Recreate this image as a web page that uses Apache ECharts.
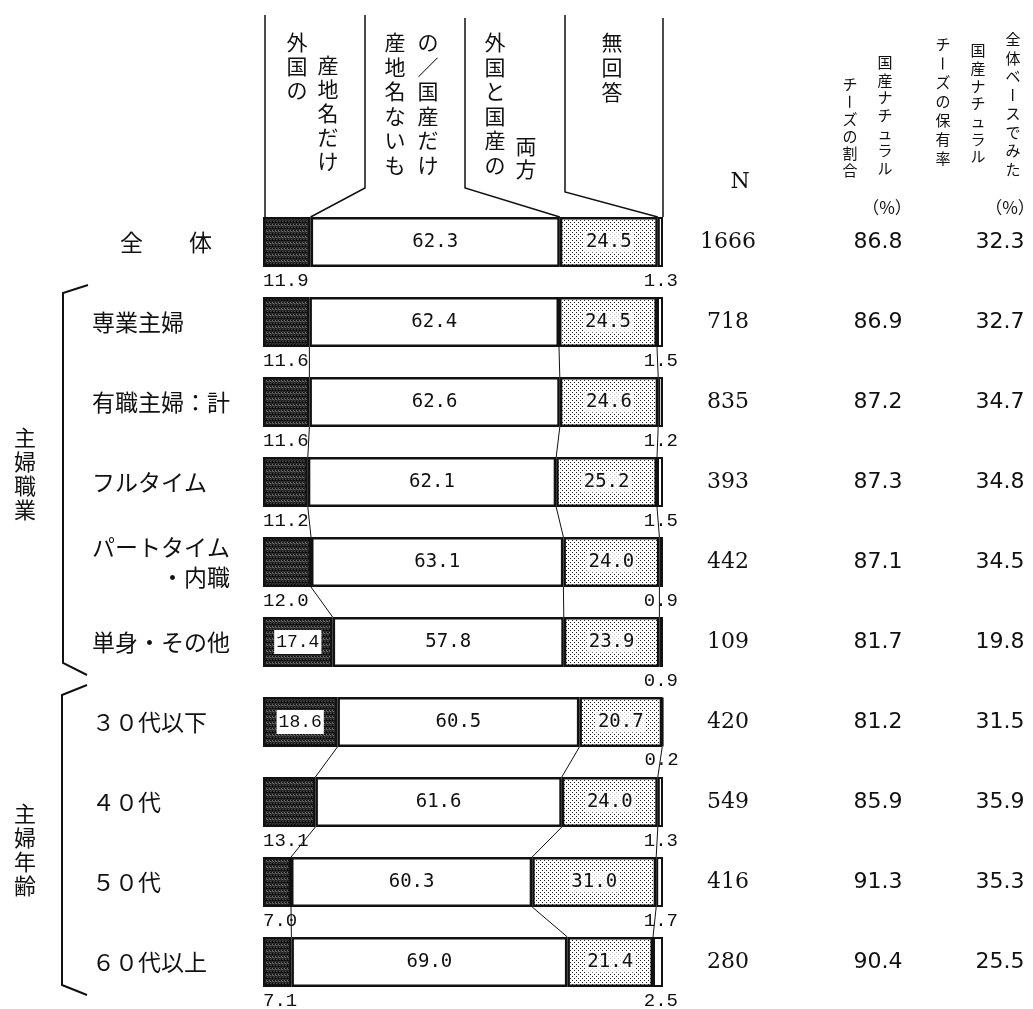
<!DOCTYPE html>
<html>
<head>
<meta charset="utf-8">
<title>国産ナチュラルチーズ</title>
<script src="https://cdn.jsdelivr.net/npm/echarts@6/dist/echarts.min.js"></script>
<style>body{margin:0;background:#fff;}</style>
</head>
<body>
<div id="main" style="width:1033px;height:1009px;"></div>
<script type="text/javascript">
// 行ラベル
var categories = ['全　　体', '専業主婦', '有職主婦：計', 'フルタイム', 'パートタイム・内職', '単身・その他', '３０代以下', '４０代', '５０代', '６０代以上'];
// 構成比（%）
var foreignOnly  = [11.9, 11.6, 11.6, 11.2, 12.0, 17.4, 18.6, 13.1, 7.0, 7.1];
var domesticOnly = [62.3, 62.4, 62.6, 62.1, 63.1, 57.8, 60.5, 61.6, 60.3, 69.0];
var bothKinds    = [24.5, 24.5, 24.6, 25.2, 24.0, 23.9, 20.7, 24.0, 31.0, 21.4];
var noAnswer     = [1.3, 1.5, 1.2, 1.5, 0.9, 0.9, 0.2, 1.3, 1.7, 2.5];
// 右側の数値
var sampleN       = [1666, 718, 835, 393, 442, 109, 420, 549, 416, 280];
var domesticShare = [86.8, 86.9, 87.2, 87.3, 87.1, 81.7, 81.2, 85.9, 91.3, 90.4];
var overallRate   = [32.3, 32.7, 34.7, 34.8, 34.5, 19.8, 31.5, 35.9, 35.3, 25.5];
// 棒同士を結ぶ線（グループ内）
var links = [[1, 2], [2, 3], [3, 4], [4, 5], [6, 7], [7, 8], [8, 9]];

var JP = '"Noto Sans CJK JP"';
var HALF = 25; // 棒の半分の太さ

function makePattern(size, draw) {
  var c = document.createElement('canvas');
  c.width = c.height = size;
  draw(c.getContext('2d'));
  return c;
}
var dottedTex = makePattern(4, function (ctx) {
  ctx.fillStyle = '#fff'; ctx.fillRect(0, 0, 4, 4);
  ctx.fillStyle = '#222'; ctx.fillRect(0, 0, 1, 1); ctx.fillRect(2, 2, 1, 1);
});
var darkTex = makePattern(6, function (ctx) {
  var shades = ['#0d0d0d', '#4a4a4a', '#222', '#6e6e6e', '#000', '#333'];
  for (var y = 0; y < 6; y++) {
    for (var x = 0; x < 6; x++) {
      ctx.fillStyle = shades[(x * 2 + y * 5 + (x * y) % 3) % 6];
      ctx.fillRect(x, y, 1, 1);
    }
  }
});

function cumRow(i) {
  var a = foreignOnly[i], b = a + domesticOnly[i], c = b + bothKinds[i];
  return [a, b, c];
}

function rightAxis(arr, margin, family, digits) {
  return {
    type: 'category', data: categories, inverse: true, position: 'right', offset: 0,
    axisLine: {show: false}, axisTick: {show: false}, splitLine: {show: false},
    axisLabel: {
      interval: 0, margin: margin, align: 'center', padding: [10, 0, 0, 0],
      fontSize: 22, fontFamily: family, color: '#111',
      formatter: function (v, i) { return digits ? arr[i].toFixed(digits) : String(arr[i]); }
    }
  };
}

var inBarLabel = {
  show: true, position: 'inside', fontFamily: '"DejaVu Sans Mono"', fontSize: 19, color: '#111',
  formatter: function (p) { return p.value.toFixed(1); }
};

var darkData = foreignOnly.map(function (v) {
  if (v < 15) return v;
  return {
    value: v,
    label: {
      position: 'inside', align: 'center', verticalAlign: 'middle',
      backgroundColor: '#fff', padding: [3, 2], fontFamily: '"Liberation Mono"', fontSize: 18
    }
  };
});

var option = {
  animation: false,
  grid: {left: 263, top: 202, width: 400, height: 800},
  xAxis: {type: 'value', min: 0, max: 100, show: false},
  yAxis: [
    {
      type: 'category', data: categories, inverse: true,
      axisLine: {show: false}, axisTick: {show: false},
      axisLabel: {
        interval: 0, margin: 171, align: 'left', fontSize: 23, fontFamily: JP, color: '#111', lineHeight: 30,
        formatter: function (v, i) {
          if (v === 'パートタイム・内職') return 'パートタイム\n　　　・内職';
          if (i === 0) return '{a|' + v + '}';
          return v;
        },
        rich: {a: {padding: [0, 0, 0, 28], fontSize: 23, fontFamily: JP, color: '#111'}}
      }
    },
    rightAxis(sampleN, 65, '"DejaVu Serif"', 0),
    rightAxis(domesticShare, 215, '"DejaVu Sans"', 1),
    rightAxis(overallRate, 337, '"DejaVu Sans"', 1)
  ],
  series: [
    {
      name: '外国の産地名だけ', type: 'bar', stack: 'a', barWidth: 50, data: darkData,
      itemStyle: {color: {image: darkTex, repeat: 'repeat'}, borderColor: '#111', borderWidth: 2.5},
      label: {
        show: true, position: [0, 54], align: 'left', verticalAlign: 'top',
        fontFamily: '"Liberation Mono"', fontSize: 19, color: '#111',
        formatter: function (p) { return p.value.toFixed(1); }
      }
    },
    {
      name: '国産だけ/産地名ないもの', type: 'bar', stack: 'a', barWidth: 50, data: domesticOnly,
      itemStyle: {color: '#fff', borderColor: '#111', borderWidth: 2.5},
      label: inBarLabel
    },
    {
      name: '外国と国産の両方', type: 'bar', stack: 'a', barWidth: 50, data: bothKinds,
      itemStyle: {color: {image: dottedTex, repeat: 'repeat'}, borderColor: '#111', borderWidth: 2.5},
      label: echarts.util.merge({backgroundColor: 'rgba(255,255,255,0.75)', padding: [1, 2]}, inBarLabel)
    },
    {
      name: '無回答', type: 'bar', stack: 'a', barWidth: 50, data: noAnswer,
      itemStyle: {color: '#fff', borderColor: '#111', borderWidth: 2},
      label: {
        show: true, position: ['100%', 54], align: 'right', verticalAlign: 'top', offset: [15, 0],
        fontFamily: '"Liberation Mono"', fontSize: 19, color: '#111',
        formatter: function (p) { return p.value.toFixed(1); }
      }
    },
    {
      type: 'custom', silent: true, data: links, z: 1,
      renderItem: function (params, api) {
        var a = api.value(0), b = api.value(1);
        var ca = cumRow(a), cb = cumRow(b), kids = [];
        for (var k = 0; k < 3; k++) {
          var p1 = api.coord([ca[k], a]);
          var p2 = api.coord([cb[k], b]);
          kids.push({
            type: 'line',
            shape: {x1: p1[0], y1: p1[1] + HALF, x2: p2[0], y2: p2[1] - HALF},
            style: {stroke: '#111', lineWidth: 1}
          });
        }
        return {type: 'group', children: kids};
      }
    }
  ]
};

var chart = echarts.init(document.getElementById('main'));
chart.setOption(option);

// 縦書きテキスト
function vtext(str, x, y, size, step) {
  return Array.from(str).map(function (ch, i) {
    var el = {
      type: 'text', x: x, y: y + i * step + size / 2,
      style: {text: ch, font: size + 'px ' + JP, fill: '#111', align: 'center', verticalAlign: 'middle'}
    };
    if (ch === 'ー') el.rotation = -Math.PI / 2;
    return el;
  });
}
function pline(points, w) {
  return {type: 'polyline', shape: {points: points}, style: {stroke: '#111', lineWidth: w || 1.5, fill: null}};
}

function px(v, row) { return chart.convertToPixel({seriesIndex: 0}, [v, row]); }
var c0 = cumRow(0);
var L = px(0, 0), B1 = px(c0[0], 0), B2 = px(c0[1], 0), B3 = px(c0[2], 0), R = px(100, 0);
var topY = L[1] - HALF;

var g = [];
// 見出しの枠
g.push(pline([[L[0] + 2, 15], [L[0] + 2, topY]]));
g.push(pline([[365, 15], [365, 188], [B1[0], topY]]));
g.push(pline([[465, 18], [465, 188], [B2[0], topY]]));
g.push(pline([[565, 15], [565, 192], [B3[0], topY]]));
g.push(pline([[R[0], 18], [R[0], topY]]));
// 見出しの文字
g = g.concat(vtext('外国の', 297, 32, 21, 24));
g = g.concat(vtext('産地名だけ', 328, 55, 21, 24));
g = g.concat(vtext('産地名ないも', 395, 32, 21, 24.5));
g = g.concat(vtext('の／国産だけ', 428, 32, 21, 24.5));
g = g.concat(vtext('外国と国産の', 495, 32, 21, 24.5));
g = g.concat(vtext('両方', 526, 136, 21, 23));
g = g.concat(vtext('無回答', 612, 32, 21, 25));
// 右側の見出し
g.push({type: 'text', x: 740, y: 182, style: {text: 'N', font: '22px "DejaVu Serif"', fill: '#111', align: 'center', verticalAlign: 'middle'}});
g = g.concat(vtext('国産ナチュラル', 885, 55, 15, 17.6));
g = g.concat(vtext('チーズの割合', 850, 77, 15, 17.2));
g.push({type: 'text', x: 887, y: 208, style: {text: '（%）', font: '17px ' + JP, fill: '#111', align: 'center', verticalAlign: 'middle'}});
g = g.concat(vtext('チーズの保有率', 943, 37, 15, 19));
g = g.concat(vtext('国産ナチュラル', 978, 43, 15, 17.7));
g = g.concat(vtext('全体ベースでみた', 1013, 32, 15, 18.5));
g.push({type: 'text', x: 1010, y: 208, style: {text: '（%）', font: '17px ' + JP, fill: '#111', align: 'center', verticalAlign: 'middle'}});
// グループ名と括弧
g = g.concat(vtext('主婦職業', 25, 427, 22, 24));
g = g.concat(vtext('主婦年齢', 25, 803, 22, 24));
g.push(pline([[88, 285], [63, 293], [63, 663], [87, 675]], 2));
g.push(pline([[87, 685], [62, 695], [62, 985], [87, 995]], 2));

chart.setOption({graphic: g});
</script>
</body>
</html>
